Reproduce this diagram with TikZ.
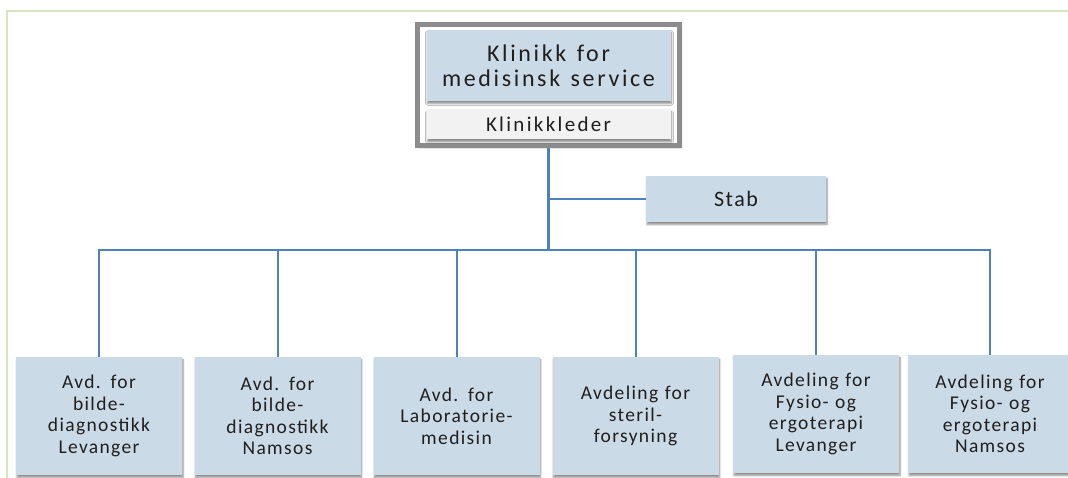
\documentclass[tikz,border=0pt]{standalone}
\usepackage{fontspec}
\setmainfont{Carlito}[LetterSpace=7,WordSpace=1.3]
\newfontfamily\widefont{Carlito}[LetterSpace=11,WordSpace=1.3]
\usetikzlibrary{shadows.blur}
\definecolor{boxblue}{HTML}{CBDAE7}
\definecolor{linkblue}{HTML}{4F81BD}
\definecolor{framegreen}{HTML}{D7E4BD}
\definecolor{framegray}{HTML}{8C8C8C}
\definecolor{txt}{HTML}{1F1F1F}
\definecolor{lightgray}{HTML}{F2F2F2}
\tikzset{
  shad/.style={blur shadow={shadow blur steps=6, shadow xshift=1pt, shadow yshift=-2.5pt, shadow opacity=45}},
  unit/.style={shad, fill=boxblue, draw=none, inner sep=0pt, align=center, text=txt,
    minimum width=166pt, minimum height=118pt, text width=164pt,
    font=\fontsize{19.5}{21.4}\selectfont},
  link/.style={draw=linkblue, line width=2pt},
}
\begin{document}
\begin{tikzpicture}[x=1pt,y=-1pt]
\useasboundingbox (0,0) rectangle (1068,478);
\draw[framegreen, line width=2pt] (7,490) -- (7,11) -- (1080,11);
% top
\node[draw=framegray, line width=5pt, fill=white, minimum width=262pt, minimum height=121pt, inner sep=0pt,
  blur shadow={shadow blur steps=6, shadow xshift=1.5pt, shadow yshift=-2pt, shadow opacity=40}] (frame) at (548.5,85) {};
\node[shad, fill=boxblue, inner sep=0pt, minimum width=244pt, minimum height=71pt, align=center, text=txt,
  font=\widefont\fontsize{24}{25}\selectfont] (clinic) at (548.5,65.5) {Klinikk for\\medisinsk service};
\node[shad, fill=lightgray, inner sep=0pt, minimum width=244pt, minimum height=30pt, text=txt,
  font=\widefont\fontsize{21}{23}\selectfont] (leader) at (548.5,124.5) {Klinikkleder};
\node[shad, fill=boxblue, inner sep=0pt, minimum width=180pt, minimum height=46pt, text=txt,
  font=\fontsize{22}{25}\selectfont] (stab) at (736,199) {Stab};
% units
\node[unit] (b1) at (99,416) {Avd. for\\bilde-\\diagnostikk\\Levanger};
\node[unit] (b2) at (277.5,416) {Avd. for\\bilde-\\diagnostikk\\Namsos};
\node[unit] (b3) at (456.5,416) {Avd. for\\Laboratorie-\\medisin};
\node[unit] (b4) at (635.5,416) {Avdeling for\\steril-\\forsyning};
\node[unit] (b5) at (816,414) {Avdeling for\\Fysio- og\\ergoterapi\\Levanger};
\node[unit, minimum width=154pt] (b6) at (990,414) {Avdeling for\\Fysio- og\\ergoterapi\\Namsos};
% connectors
\coordinate (bus) at (548.5,250);
\draw[link, line width=2.5pt] (frame.south) -- (bus);
\draw[link] (bus |- stab.west) -- (stab.west);
\draw[link] (b1.north) |- (bus) -| (b6.north);
\foreach \n in {b2,b3,b4,b5} { \draw[link] (\n.north) -- (\n.north |- bus); }
\end{tikzpicture}
\end{document}
